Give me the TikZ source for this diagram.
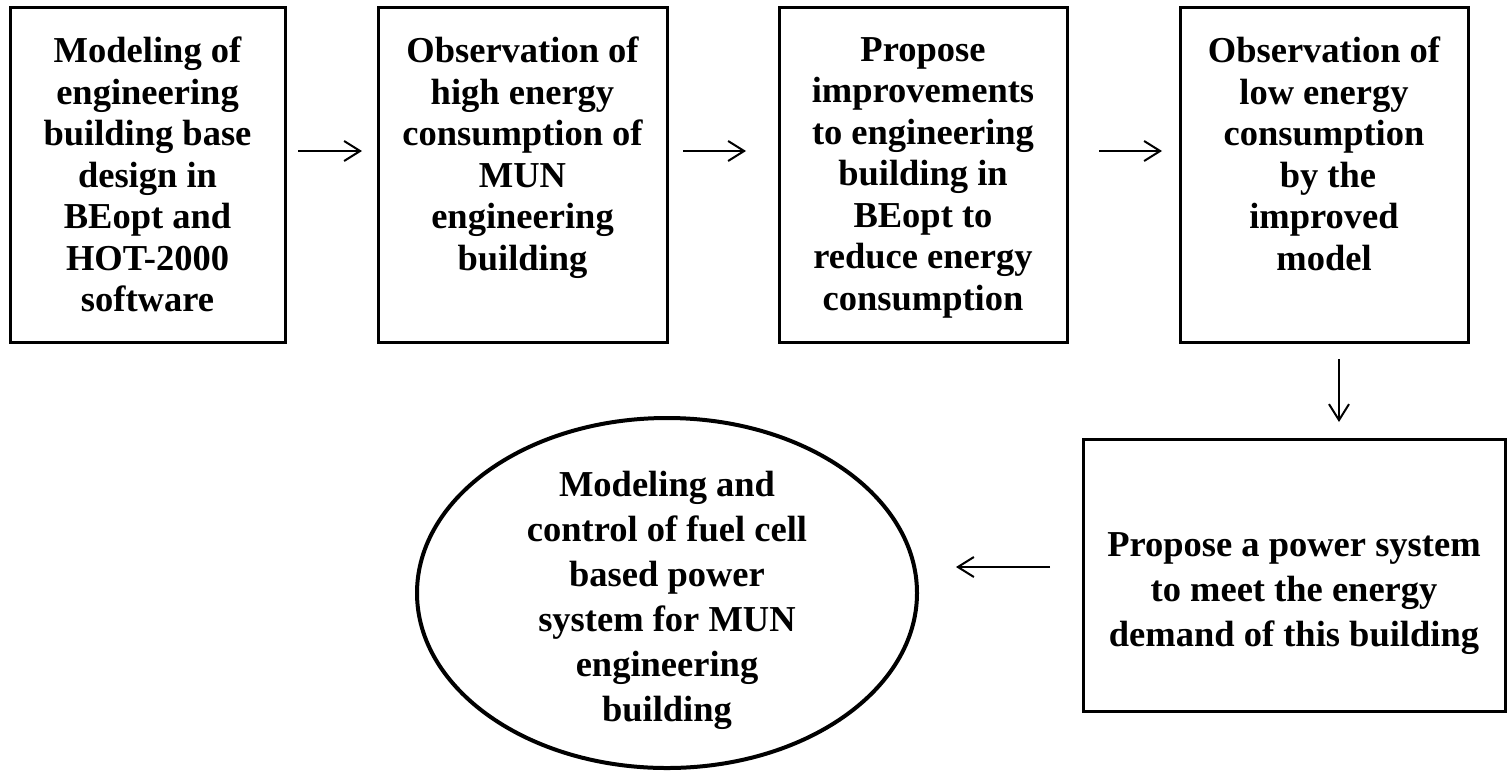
\documentclass[tikz,border=0pt]{standalone}
\usepackage{fontspec}
\setmainfont{Liberation Serif}
\usetikzlibrary{arrows.meta,shapes.geometric}

\begin{document}
\begin{tikzpicture}[x=1pt,y=-1pt,
  stepbox/.style={draw, line width=3pt, inner sep=0pt},
  goalshape/.style={ellipse, draw, line width=4pt, inner sep=0pt},
  boxtext/.style={font=\fontsize{36.5}{41.5}\selectfont\bfseries, align=center, inner sep=0pt},
  lowtext/.style={font=\fontsize{36.5}{45}\selectfont\bfseries, align=center, inner sep=0pt},
  flow/.style={line width=2pt, -{Straight Barb[length=16pt,width=20pt,line width=2pt]}}]

\useasboundingbox (0,0) rectangle (1509,772);

% top row of process steps
\node[stepbox, minimum width=275pt, minimum height=335pt] (b1) at (147.5,174.5) {};
\node[stepbox, minimum width=289pt, minimum height=335pt] (b2) at (522.5,174.5) {};
\node[stepbox, minimum width=288pt, minimum height=335pt] (b3) at (923,174.5) {};
\node[stepbox, minimum width=288pt, minimum height=335pt] (b4) at (1324,174.5) {};

\node[boxtext, anchor=north] (t1) at (147.5,37) {Modeling of\\engineering\\building base\\design in\\BEopt and\\HOT-2000\\software};
\node[boxtext, anchor=north] (t2) at (522.5,37) {Observation of\\high energy\\consumption of\\MUN\\engineering\\building};
\node[boxtext, anchor=north] (t3) at (923,37) {Propose\\improvements\\to engineering\\building in\\BEopt to\\reduce energy\\consumption};
\node[boxtext, anchor=north] (t4) at (1324,37) {Observation of\\low energy\\consumption\\\hspace{8pt}by the\\improved\\model};

% lower row
\node[stepbox, minimum width=422pt, minimum height=272pt] (b5) at (1294,575) {};
\node[lowtext] (t5) at (1294,594) {Propose a power system\\to meet the energy\\demand of this building};

\node[goalshape, minimum width=500pt, minimum height=350pt] (e) at (667,593) {};
\node[lowtext] (t6) at (667,600) {Modeling and\\control of fuel cell\\based power\\system for MUN\\engineering\\building};

% connectors
\draw[flow, shorten <=11.5pt, shorten >=14.5pt] ([yshift=23.5pt]b1.east) -- ([yshift=23.5pt]b2.west);
\draw[flow, shorten <=14.5pt, shorten >=31.5pt] ([yshift=23.5pt]b2.east) -- ([yshift=23.5pt]b3.west);
\draw[flow, shorten <=30.5pt, shorten >=16.5pt] ([yshift=23.5pt]b3.east) -- ([yshift=23.5pt]b4.west);
\draw[flow, shorten <=15.5pt, shorten >=15.5pt] ([xshift=15pt]b4.south) -- ([xshift=15pt]b4.south |- b5.north);
\draw[flow, shorten <=31.5pt, shorten >=37pt] ([yshift=8pt]b5.west) -- ([yshift=8pt]b5.west -| e.east);
\end{tikzpicture}
\end{document}
